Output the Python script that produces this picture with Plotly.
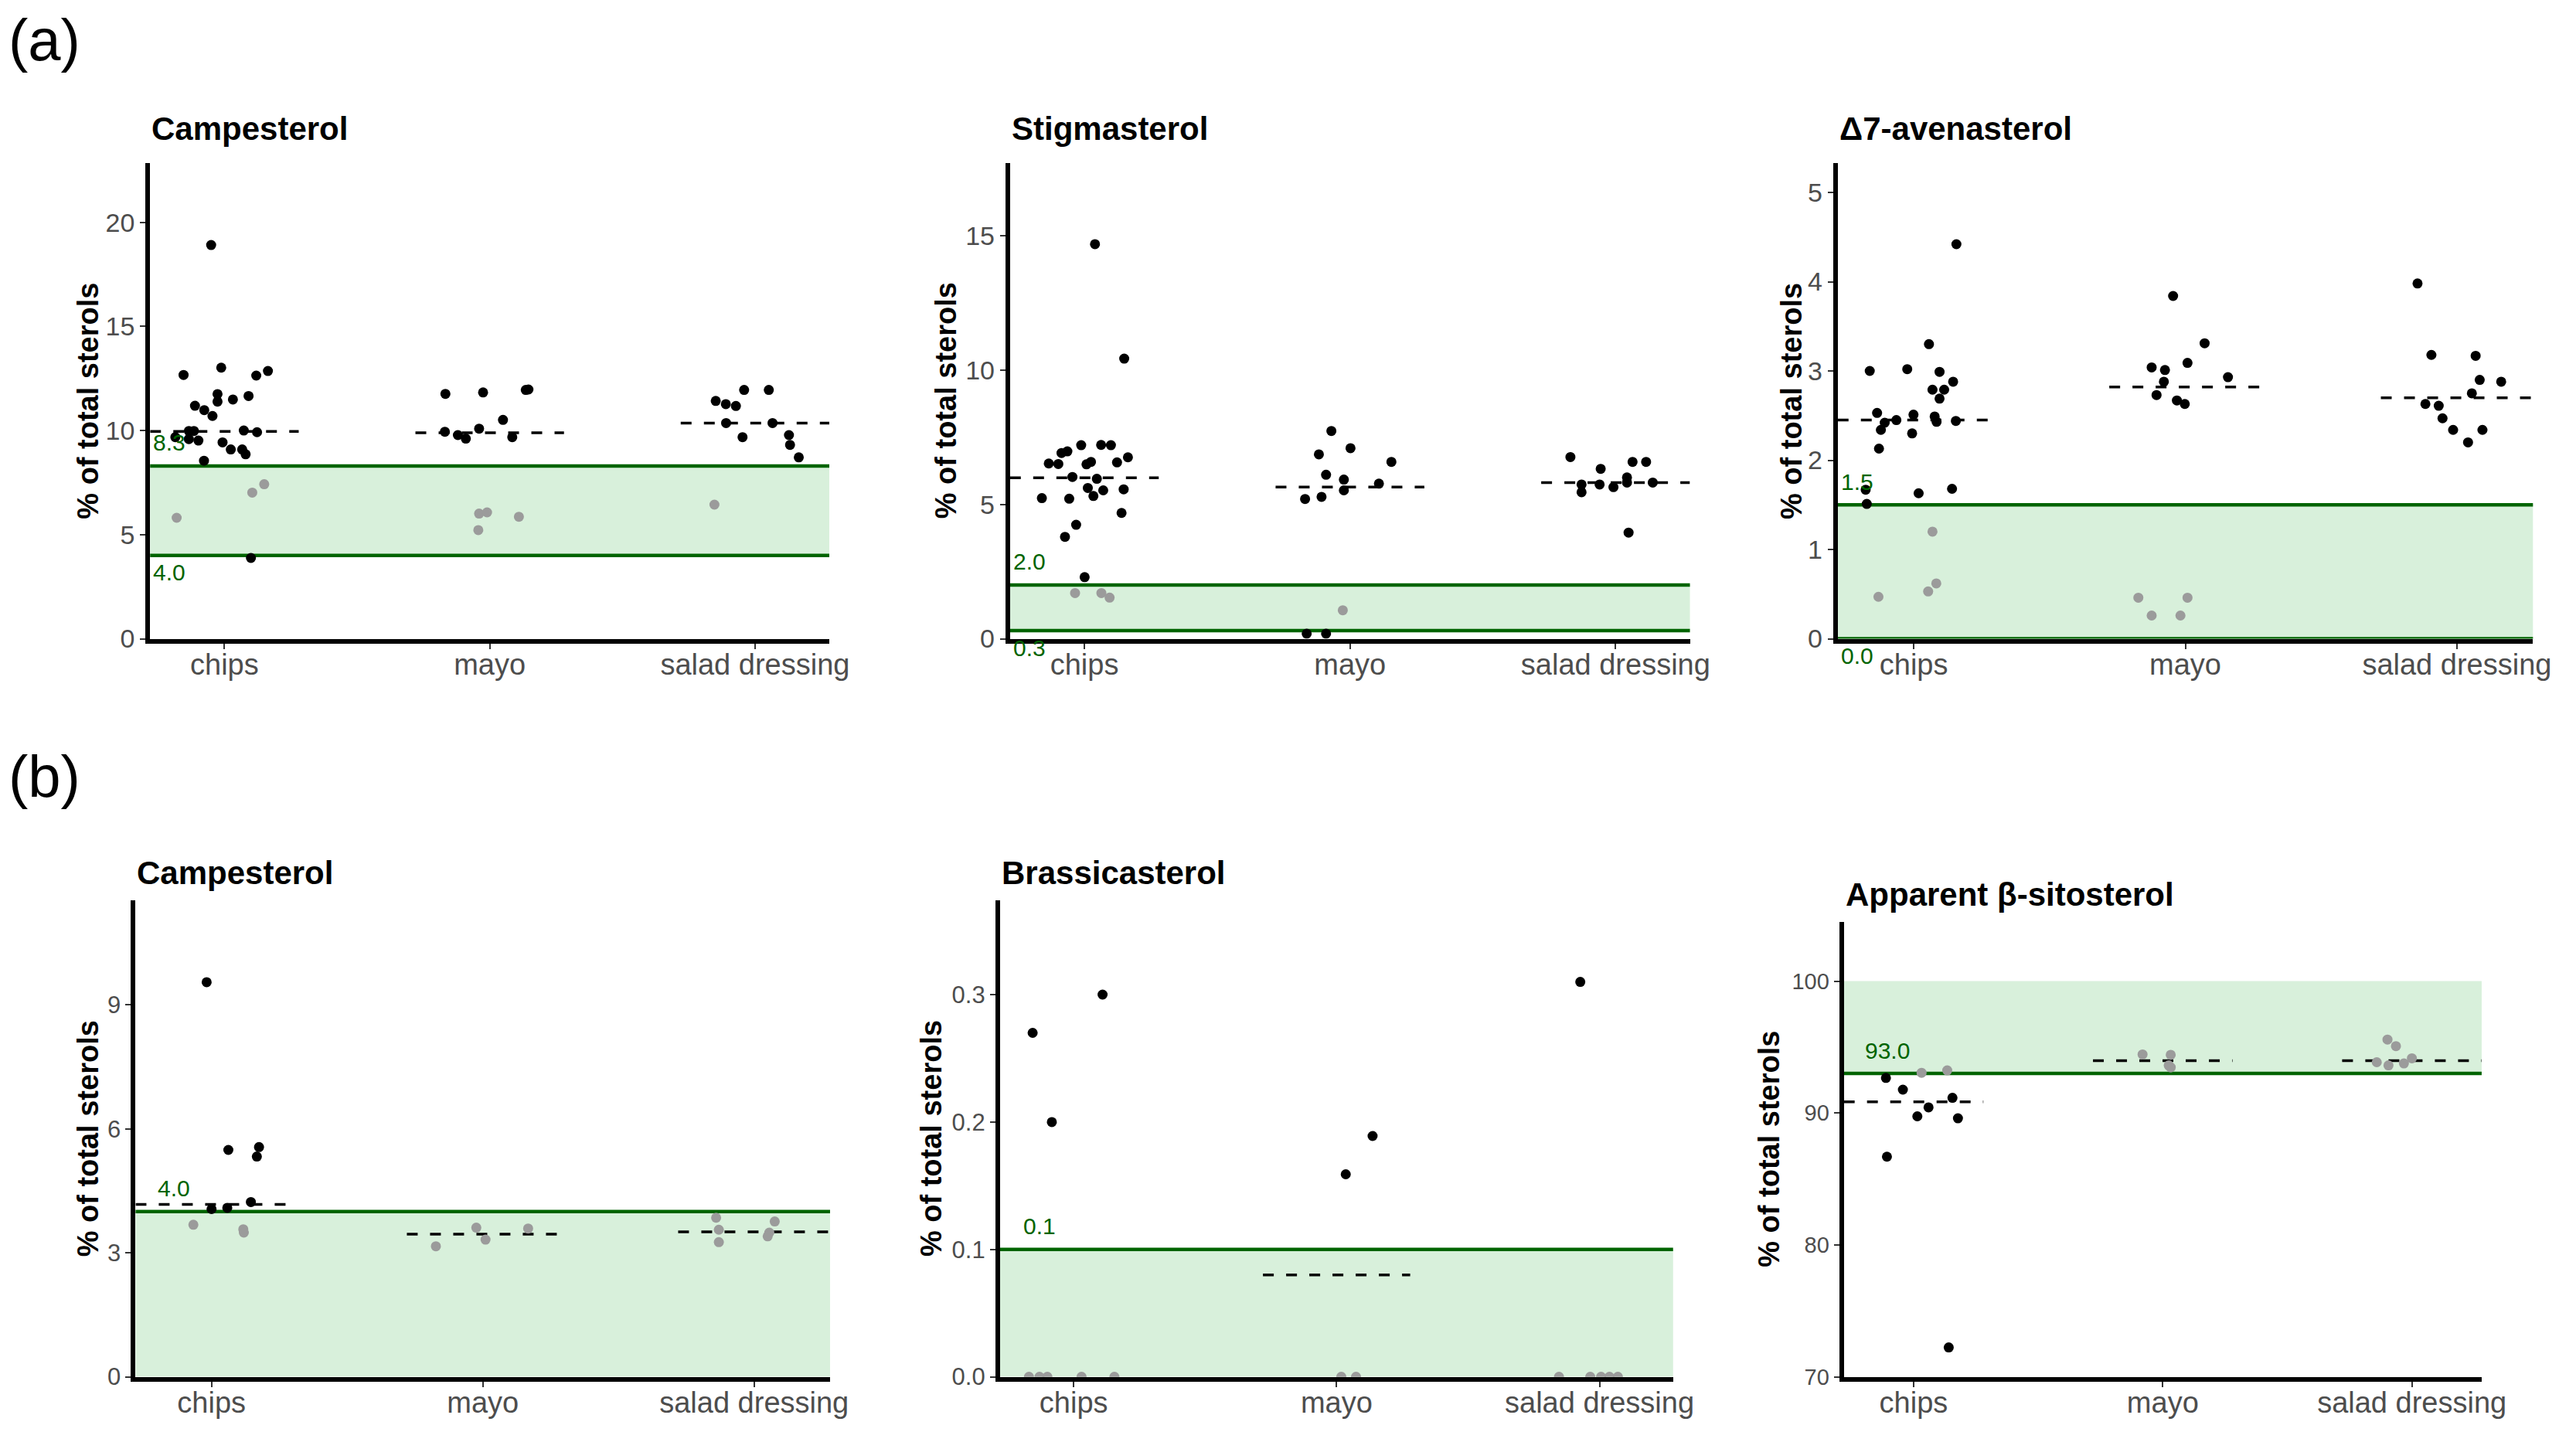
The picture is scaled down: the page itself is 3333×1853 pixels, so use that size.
import plotly.graph_objects as go

W, H = 3333, 1853
CATS = ["chips", "mayo", "salad dressing"]

# ---------------- (a) Campesterol ----------------
A1_chips = [12.67, 13.02, 12.64, 12.86, 11.75, 11.39, 11.49, 11.66, 11.19, 10.98, 10.70, 9.98, 9.98, 9.59,
            9.52, 9.68, 10.00, 9.92, 9.43, 9.09, 9.09, 8.86, 8.55, 18.91, 5.81, 7.02, 7.42, 3.88]
A1_chips_jit = [-0.154, -0.012, 0.12, 0.164, -0.026, -0.026, 0.032, 0.091, -0.111, -0.076, -0.045, -0.134, -0.115, -0.134,
                -0.098, -0.185, 0.073, 0.123, -0.007, 0.024, 0.067, 0.08, -0.077, -0.05, -0.18, 0.105, 0.15, 0.10]
A1_mayo = [11.76, 11.83, 11.95, 11.97, 9.94, 9.78, 9.61, 10.09, 10.51, 9.68, 6.01, 6.07, 5.22, 5.86]
A1_mayo_jit = [-0.167, -0.025, 0.136, 0.146, -0.169, -0.12, -0.09, -0.04, 0.05, 0.085, -0.04, -0.01, -0.043, 0.11]
A1_salad = [11.42, 11.27, 11.18, 11.95, 11.95, 10.36, 10.36, 9.68, 9.78, 9.31, 8.71, 6.44]
A1_salad_jit = [-0.148, -0.11, -0.072, -0.041, 0.052, -0.109, 0.066, -0.047, 0.128, 0.132, 0.165, -0.153]
A1_median = [9.96, 9.89, 10.36]
A1_band = [4.0, 8.3]
A1_limits = [8.3, 4.0]
A1_limit_text = ["8.3", "4.0"]
A1_yticks = [0, 5, 10, 15, 20]

# ---------------- (a) Stigmasterol ----------------
A2_chips = [7.20, 7.21, 7.20, 6.91, 6.97, 6.52, 6.50, 6.49, 6.58, 6.56, 6.75, 6.02, 5.95, 5.61, 5.52, 5.31, 5.56,
            5.23, 5.21, 4.68, 4.24, 3.79, 2.29, 14.68, 10.42, 1.70, 1.70, 1.53]
A2_chips_jit = [-0.012, 0.063, 0.10, -0.086, -0.064, -0.134, -0.098, 0.008, 0.025, 0.123, 0.164, -0.045, 0.047, 0.013,
                0.071, 0.034, 0.148, -0.16, -0.057, 0.14, -0.031, -0.073, 0.001, 0.04, 0.15, -0.035, 0.064, 0.095]
A2_mayo = [7.73, 6.86, 7.09, 6.58, 6.10, 5.92, 5.52, 5.77, 5.20, 5.28, 1.06, 0.19, 0.19]
A2_mayo_jit = [-0.07, -0.117, 0.002, 0.156, -0.09, -0.023, -0.023, 0.109, -0.169, -0.107, -0.027, -0.163, -0.09]
A2_salad = [6.76, 6.32, 6.58, 6.58, 5.74, 5.45, 5.74, 5.64, 5.81, 6.00, 5.81, 3.95]
A2_salad_jit = [-0.17, -0.056, 0.064, 0.115, -0.128, -0.128, -0.06, -0.008, 0.043, 0.043, 0.14, 0.049]
A2_median = [5.99, 5.64, 5.81]
A2_band = [0.3, 2.0]
A2_limits = [2.0, 0.3]
A2_limit_text = ["2.0", "0.3"]
A2_yticks = [0, 5, 10, 15]

# ---------------- (a) Δ7-avenasterol ----------------
A3_chips = [3.30, 3.00, 3.02, 2.99, 2.88, 2.79, 2.79, 2.69, 2.53, 2.42, 2.34, 2.45, 2.51, 2.49, 2.43, 2.44, 2.30,
            2.13, 1.67, 1.63, 1.68, 1.51, 4.42, 1.20, 0.62, 0.53, 0.47]
A3_chips_jit = [0.056, -0.162, -0.024, 0.095, 0.145, 0.069, 0.112, 0.095, -0.135, -0.107, -0.121, -0.064, -0.001,
                0.077, 0.084, 0.155, -0.006, -0.128, -0.177, 0.018, 0.141, -0.173, 0.157, 0.069, 0.083, 0.053, -0.13]
A3_mayo = [3.84, 3.31, 3.04, 3.01, 3.09, 2.93, 2.88, 2.73, 2.67, 2.63, 0.46, 0.46, 0.26, 0.26]
A3_mayo_jit = [-0.045, 0.071, -0.124, -0.075, 0.008, 0.157, -0.079, -0.106, -0.031, -0.002, -0.173, 0.008, -0.124, -0.018]
A3_salad = [3.98, 3.18, 3.17, 2.90, 2.88, 2.75, 2.63, 2.61, 2.47, 2.34, 2.34, 2.20]
A3_salad_jit = [-0.145, -0.094, 0.069, 0.084, 0.163, 0.055, -0.116, -0.067, -0.053, -0.014, 0.094, 0.041]
A3_median = [2.45, 2.82, 2.70]
A3_band = [0.0, 1.5]
A3_limits = [1.5, 0.0]
A3_limit_text = ["1.5", "0.0"]
A3_yticks = [0, 1, 2, 3, 4, 5]

# ---------------- (b) Campesterol ----------------
B1_chips = [9.55, 5.49, 5.56, 5.33, 4.23, 4.06, 4.09, 3.68, 3.57, 3.49]
B1_chips_jit = [-0.018, 0.062, 0.175, 0.167, 0.145, 0.0, 0.058, -0.067, 0.117, 0.119]
B1_mayo = [3.16, 3.61, 3.32, 3.59]
B1_mayo_jit = [-0.173, -0.024, 0.01, 0.167]
B1_salad = [3.85, 3.56, 3.26, 3.76, 3.49, 3.40]
B1_salad_jit = [-0.14, -0.13, -0.13, 0.076, 0.056, 0.05]
B1_median = [4.17, 3.45, 3.51]
B1_band = [0.0, 4.0]
B1_limits = [4.0]
B1_limit_text = ["4.0"]
B1_yticks = [0, 3, 6, 9]

# ---------------- (b) Brassicasterol ----------------
B2_chips = [0.27, 0.20, 0.30, 0, 0, 0, 0, 0]
B2_chips_jit = [-0.156, -0.083, 0.11, -0.17, -0.13, -0.10, 0.03, 0.155]
B2_mayo = [0.159, 0.189, 0, 0]
B2_mayo_jit = [0.035, 0.137, 0.018, 0.074]
B2_salad = [0.31, 0, 0, 0, 0, 0]
B2_salad_jit = [-0.073, -0.154, -0.035, 0.006, 0.038, 0.07]
B2_median = [0.0, 0.08, 0.0]
B2_band = [0.0, 0.1]
B2_limits = [0.1]
B2_limit_text = ["0.1"]
B2_yticks = [0.0, 0.1, 0.2, 0.3]

# ---------------- (b) Apparent β-sitosterol ----------------
B3_chips = [92.66, 91.77, 89.75, 90.43, 91.15, 89.60, 86.69, 72.23, 93.05, 93.23]
B3_chips_jit = [-0.111, -0.043, 0.015, 0.06, 0.156, 0.178, -0.107, 0.141, 0.032, 0.135]
B3_mayo = [94.44, 94.41, 93.61, 93.46]
B3_mayo_jit = [-0.081, 0.032, 0.024, 0.032]
B3_salad = [95.57, 95.07, 93.85, 93.61, 93.76, 94.15]
B3_salad_jit = [-0.098, -0.064, -0.141, -0.094, -0.032, 0.0]
B3_median = [90.85, 93.97, 93.97]
B3_band = [93.0, 100.0]
B3_limits = [93.0]
B3_limit_text = ["93.0"]
B3_yticks = [70, 80, 90, 100]

TITLES = ["Campesterol", "Stigmasterol", "Δ7-avenasterol",
          "Campesterol", "Brassicasterol", "Apparent β-sitosterol"]
Y_TITLE = "% of total sterols"
PANEL_TAGS = ["(a)", "(b)"]

# ---------------- layout geometry (pixels) ----------------
FONT = "Liberation Sans, Arial, Helvetica, sans-serif"
GEOM = [  # x_left, x_right, y_top, y_bottom, y_range, ytitle_cx, title_cy, tick_size
    (188, 1075, 205, 827, [0, 22.85], 107, 160, 34),
    (1311, 2199, 205, 827, [0, 17.7], 1227, 160, 34),
    (2392, 3300, 205, 827, [0, 5.33], 2331, 160, 34),
    (169, 1076, 1169, 1792, [0, 11.53], 107, 1133, 31),
    (1298, 2177, 1169, 1792, [0, 0.374], 1209, 1133, 31),
    (2400, 3233, 1197, 1792, [70, 104.5], 2303, 1161, 29),
]
LABEL_XSHIFT = [2, 2, 2, 27, 28, 25]

panels = [
    (A1_chips, A1_chips_jit, A1_mayo, A1_mayo_jit, A1_salad, A1_salad_jit, A1_median, A1_band, A1_limits, A1_limit_text, A1_yticks),
    (A2_chips, A2_chips_jit, A2_mayo, A2_mayo_jit, A2_salad, A2_salad_jit, A2_median, A2_band, A2_limits, A2_limit_text, A2_yticks),
    (A3_chips, A3_chips_jit, A3_mayo, A3_mayo_jit, A3_salad, A3_salad_jit, A3_median, A3_band, A3_limits, A3_limit_text, A3_yticks),
    (B1_chips, B1_chips_jit, B1_mayo, B1_mayo_jit, B1_salad, B1_salad_jit, B1_median, B1_band, B1_limits, B1_limit_text, B1_yticks),
    (B2_chips, B2_chips_jit, B2_mayo, B2_mayo_jit, B2_salad, B2_salad_jit, B2_median, B2_band, B2_limits, B2_limit_text, B2_yticks),
    (B3_chips, B3_chips_jit, B3_mayo, B3_mayo_jit, B3_salad, B3_salad_jit, B3_median, B3_band, B3_limits, B3_limit_text, B3_yticks),
]

BLACK = "#000000"
GREY = "#9b9b9b"
BAND_FILL = "#d8f0db"
GREEN = "#006400"
TICK_GREY = "#4d4d4d"

fig = go.Figure()
shapes = []
annotations = []
layout = {}

for i, (p, g) in enumerate(zip(panels, GEOM)):
    n = i + 1
    xs = "" if n == 1 else str(n)
    xref, yref = "x" + xs, "y" + xs
    cv, cj, mv, mj, sv, sj, med, band, lims, ltxt, yt = p
    xl, xr, yt_px, yb_px, yr, ytc, tcy, tsz = g
    lo, hi = band

    # band + limit lines
    shapes.append(dict(type="rect", xref=xref + " domain", yref=yref, x0=0, x1=1, y0=lo, y1=hi,
                       fillcolor=BAND_FILL, line=dict(width=0), layer="below"))
    for lv in lims:
        shapes.append(dict(type="line", xref=xref + " domain", yref=yref, x0=0, x1=1, y0=lv, y1=lv,
                           line=dict(color=GREEN, width=4.5), layer="below"))

    # points
    for k, (vals, jit) in enumerate([(cv, cj), (mv, mj), (sv, sj)]):
        xpos = [k + 1 + j for j in jit]
        cols = [GREY if lo <= v <= hi else BLACK for v in vals]
        # median dashed segment (hidden behind the axis when at the axis floor)
        if med[k] > yr[0]:
            fig.add_trace(go.Scatter(x=[k + 1 - 0.28, k + 1 + 0.28], y=[med[k], med[k]], mode="lines",
                                     xaxis=xref, yaxis=yref,
                                     line=dict(color=BLACK, width=3.5, dash="14px,16px"),
                                     showlegend=False, hoverinfo="skip"))
        fig.add_trace(go.Scatter(x=xpos, y=vals, mode="markers", xaxis=xref, yaxis=yref,
                                 marker=dict(size=13, color=cols, line=dict(width=0)),
                                 showlegend=False, hoverinfo="y"))

    layout["xaxis" + xs] = dict(domain=[xl / W, xr / W], anchor=yref, range=[0.72, 3.28],
                                tickvals=[1, 2, 3], ticktext=CATS, showline=True, linecolor=BLACK,
                                linewidth=6, ticks="outside", ticklen=7, tickwidth=2, tickcolor="#333333",
                                ticklabelstandoff=-12,
                                tickfont=dict(family=FONT, size=38, color=TICK_GREY),
                                showgrid=False, zeroline=False, fixedrange=True)
    ytext = [f"{v:.1f}" if isinstance(v, float) else str(v) for v in yt]
    layout["yaxis" + xs] = dict(domain=[1 - yb_px / H, 1 - yt_px / H], anchor=xref, range=yr,
                                tickvals=yt, ticktext=ytext, showline=True, linecolor=BLACK,
                                linewidth=6, ticks="outside", ticklen=7, tickwidth=2, tickcolor="#333333",
                                tickfont=dict(family=FONT, size=tsz, color=TICK_GREY),
                                showgrid=False, zeroline=False, fixedrange=True)

    # title
    annotations.append(dict(text="<b>" + TITLES[i] + "</b>", xref="paper", yref="paper",
                            x=xl / W, y=1 - tcy / H, xanchor="left", yanchor="middle", showarrow=False,
                            font=dict(family=FONT, size=42, color=BLACK)))
    # y-axis title
    annotations.append(dict(text="<b>" + Y_TITLE + "</b>", xref="paper", yref="paper",
                            x=ytc / W, y=1 - (yt_px + yb_px) / 2 / H, xanchor="center", yanchor="middle",
                            textangle=-90, showarrow=False,
                            font=dict(family=FONT, size=38, color=BLACK)))
    # limit labels
    for j, (lv, tx) in enumerate(zip(lims, ltxt)):
        above = (lv == max(lims))
        annotations.append(dict(text=tx, xref=xref + " domain", yref=yref, x=0, y=lv,
                                xanchor="left", yanchor="middle", showarrow=False,
                                xshift=LABEL_XSHIFT[i], yshift=30 if above else -22,
                                font=dict(family=FONT, size=30, color=GREEN)))

# panel tags
for tag, cy in zip(PANEL_TAGS, [44, 1007]):
    annotations.append(dict(text=tag, xref="paper", yref="paper", x=50 / W, y=1 - cy / H,
                            xanchor="center", yanchor="middle", showarrow=False,
                            font=dict(family=FONT, size=76, color=BLACK)))

fig.update_layout(width=W, height=H, margin=dict(l=0, r=0, t=0, b=0),
                  paper_bgcolor="white", plot_bgcolor="rgba(0,0,0,0)",
                  shapes=shapes, annotations=annotations, showlegend=False, **layout)

fig.write_html("out.html")
